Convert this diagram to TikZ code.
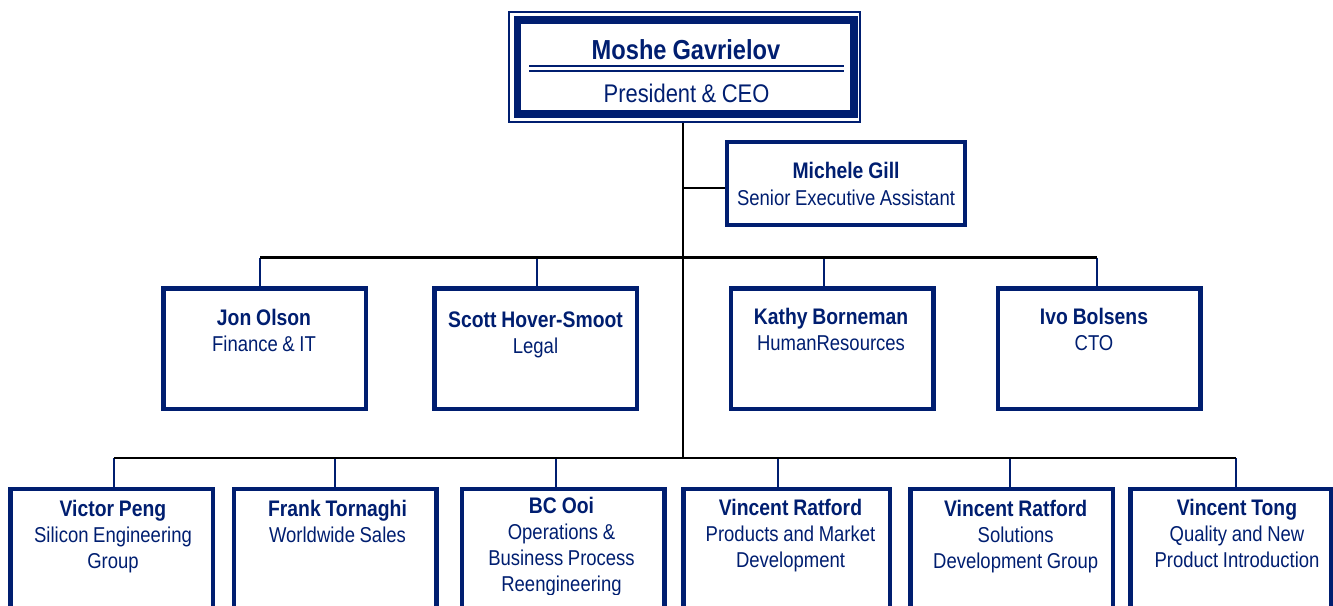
\documentclass[tikz,border=0pt]{standalone}
\usepackage{fontspec}
\setmainfont{Liberation Sans}[FakeStretch=0.86, WordSpace=0.9]
\definecolor{navy}{RGB}{0,30,112}
\newcommand\pname[1]{{\fontsize{22.5}{26}\selectfont\bfseries #1}}
\begin{document}
\begin{tikzpicture}[x=1pt,y=-1pt,
  box/.style={draw=navy, line width=4.5pt, minimum width=202.5pt, inner sep=0pt},
  rowtwo/.style={box, minimum height=120.5pt},
  rowthree/.style={box, minimum height=149pt},
  txt/.style={anchor=base, text=navy, text width=240pt, align=flush center, inner sep=0pt,
    font=\fontsize{21.5}{26}\selectfont},
  bus/.style={draw=black, line width=2.2pt},
  drop/.style={draw=navy, line width=2.4pt},
  trunk/.style={draw=black, line width=2.6pt}]
\path[use as bounding box, clip] (0,0) rectangle (1333,605);

% President box: thin outer frame, heavy inner frame, double rule
\node[draw=navy, line width=1.7pt, minimum width=351.3pt, minimum height=110.3pt, inner sep=0pt]
  (ceoframe) at (684.5,67) {};
\node[draw=navy, line width=7.5pt, minimum width=336.5pt, minimum height=94.3pt, inner sep=0pt]
  (ceo) at (685.5,66.9) {};
\node[anchor=base, text=navy, inner sep=0pt, font=\fontsize{27.5}{30}\selectfont\bfseries]
  (ceoname) at (686,59.3) {Moshe Gavrielov};
\node[anchor=base, text=navy, inner sep=0pt, font=\fontsize{25.5}{30}\selectfont]
  (ceotitle) at (686.5,102.7) {President \& CEO};
\coordinate (ruleL) at (529,65.7);
\coordinate (ruleR) at (844,65.7);
\draw[navy, line width=2.4pt] (ruleL) -- (ruleR);
\draw[navy, line width=2.4pt] ([yshift=-5.1pt]ruleL) -- ([yshift=-5.1pt]ruleR);

% Assistant
\node[box, line width=4pt, minimum width=238pt, minimum height=83pt] (mg) at (846,183.5) {};
\node[txt, font=\fontsize{21.5}{27}\selectfont] (mgt) at (846,178.3)
  {\pname{Michele Gill}\\Senior Executive Assistant};

% Second row
\node[rowtwo] (jon)   at (264.5,348.5) {};
\node[rowtwo] (scott) at (535.5,348.5) {};
\node[rowtwo] (kathy) at (832,348.5) {};
\node[rowtwo] (ivo)   at (1099,348.5) {};
\node[txt] (jont)   at (264,325)   {\pname{Jon Olson}\\Finance \& IT};
\node[txt] (scottt) at (535.5,327.3) {\pname{Scott Hover-Smoot}\\Legal};
\node[txt] (kathyt) at (831,324)   {\pname{Kathy Borneman}\\HumanResources};
\node[txt] (ivot)   at (1094,324)  {\pname{Ivo Bolsens}\\CTO};

% Third row
\node[rowthree] (peng)   at (111.5,563.3) {};
\node[rowthree] (frank)  at (335,563.3) {};
\node[rowthree] (ooi)    at (563,563.3) {};
\node[rowthree, minimum width=206.5pt] (ratA) at (786.5,563.3) {};
\node[rowthree] (ratB)   at (1011.5,563.3) {};
\node[rowthree, minimum width=200.5pt] (tong) at (1230.5,563.3) {};
\node[txt] (pengt)  at (113,516.5)  {\pname{Victor Peng}\\Silicon Engineering\\Group};
\node[txt] (frankt) at (337.5,516.7) {\pname{Frank Tornaghi}\\Worldwide Sales};
\begin{scope}
  \clip (459,480) rectangle (667,594);
  \node[txt] (ooit) at (561.5,513.5) {\pname{BC Ooi}\\Operations \&\\Business Process\\Reengineering};
\end{scope}
\node[txt] (ratAt)  at (790.5,515.3) {\pname{Vincent Ratford}\\Products and Market\\Development};
\node[txt] (ratBt)  at (1015.7,516.3) {\pname{Vincent Ratford}\\Solutions\\Development Group};
\node[txt] (tongt)  at (1237,515.3) {\pname{Vincent Tong}\\Quality and New\\Product Introduction};

% Reporting lines
\coordinate (tm) at (683,188);
\coordinate (tb) at (683,458);
\coordinate (r2a) at (260,257.5);
\coordinate (r2b) at (537,257.5);
\coordinate (r2c) at (824,257.5);
\coordinate (r2d) at (1097,257.5);
\coordinate (r3a) at (114,458);
\coordinate (r3b) at (335,458);
\coordinate (r3c) at (556,458);
\coordinate (r3d) at (778,458);
\coordinate (r3e) at (1010,458);
\coordinate (r3f) at (1236,458);

\draw[drop] (r2a) -- (r2a |- jon.north);
\draw[drop] (r2b) -- (r2b |- scott.north);
\draw[drop] (r2c) -- (r2c |- kathy.north);
\draw[drop] (r2d) -- (r2d |- ivo.north);
\draw[drop] (r3a) -- (r3a |- peng.north);
\draw[drop] (r3b) -- (r3b |- frank.north);
\draw[drop] (r3c) -- (r3c |- ooi.north);
\draw[drop] (r3d) -- (r3d |- ratA.north);
\draw[drop] (r3e) -- (r3e |- ratB.north);
\draw[drop] (r3f) -- (r3f |- tong.north);

\draw[bus] (r2a) -- (r2d);
\draw[bus] (r3a) -- (r3f);
\draw[bus] (tm) -- (tm -| mg.west);
\draw[trunk] (ceoframe.south -| tb) -- (tb);
\end{tikzpicture}
\end{document}
